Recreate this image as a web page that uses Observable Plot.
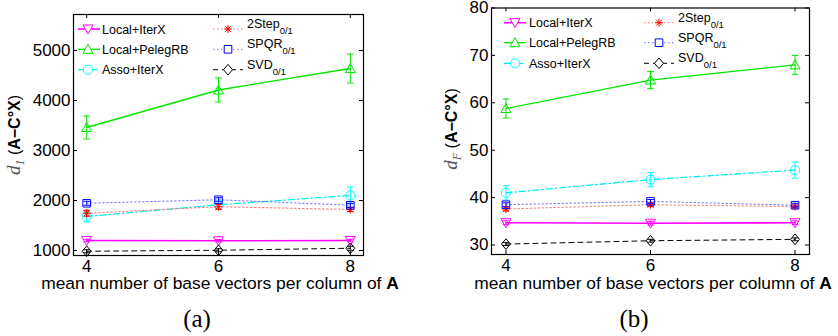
<!DOCTYPE html>
<html>
<head>
<meta charset="utf-8">
<script src="https://cdn.jsdelivr.net/npm/d3@7"></script>
<script src="https://cdn.jsdelivr.net/npm/@observablehq/plot@0.6"></script>
<style>
  html, body { margin: 0; padding: 0; background: #fff; }
  #chart { display: flex; width: 838px; height: 336px; overflow: hidden; }
  #chart svg { display: block; flex: none; }
</style>
</head>
<body>
<div id="chart"></div>
<script>
// ---------------- data ----------------
const xValues = [4, 6, 8];
const xTicks = [4, 6, 8];
const seriesNames = ["Local+IterX", "Local+PelegRB", "Asso+IterX", "2Step", "SPQR", "SVD"];
const seriesSubs = ["", "", "", "0/1", "0/1", "0/1"];

// panel (a): d_1(A - C o X)
const d1LocalIterX = [1200, 1195, 1200];
const d1LocalIterXErr = [25, 25, 25];
const d1LocalPelegRB = [3460, 4210, 4640];
const d1LocalPelegRBErr = [230, 240, 290];
const d1AssoIterX = [1680, 1915, 2100];
const d1AssoIterXErr = [110, 90, 170];
const d1TwoStep = [1745, 1875, 1820];
const d1TwoStepErr = [60, 50, 40];
const d1SPQR = [1945, 2015, 1905];
const d1SPQRErr = [40, 40, 40];
const d1SVD = [985, 1005, 1045];
const d1SVDErr = [30, 30, 40];
const d1Ticks = [1000, 2000, 3000, 4000, 5000];

// panel (b): d_F(A - C o X)
const dFLocalIterX = [34.7, 34.6, 34.7];
const dFLocalIterXErr = [0.4, 0.4, 0.4];
const dFLocalPelegRB = [58.8, 64.8, 68.0];
const dFLocalPelegRBErr = [2.0, 1.8, 2.0];
const dFAssoIterX = [41.0, 43.8, 45.8];
const dFAssoIterXErr = [1.5, 1.5, 1.7];
const dFTwoStep = [37.6, 38.5, 38.1];
const dFTwoStepErr = [0.4, 0.4, 0.3];
const dFSPQR = [38.5, 39.2, 38.4];
const dFSPQRErr = [0.4, 0.4, 0.4];
const dFSVD = [30.2, 30.9, 31.2];
const dFSVDErr = [0.3, 0.3, 0.3];
const dFTicks = [30, 40, 50, 60, 70, 80];

const captions = ["(a)", "(b)"];
const xLabelPlain = "mean number of base vectors per column of ";
const xLabelBold = "A";
const yLabelSubs = ["1", "F"];
const yLabelBody = "A\u2212C\u00b0X";

// ---------------- styles ----------------
const sym = {
  triDown: {draw(c) { c.moveTo(0, 5); c.lineTo(-5, -4); c.lineTo(5, -4); c.closePath(); }},
  triUp: {draw(c) { c.moveTo(0, -5); c.lineTo(5, 4); c.lineTo(-5, 4); c.closePath(); }},
  circle: {draw(c) { c.moveTo(4.6, 0); c.arc(0, 0, 4.6, 0, 2 * Math.PI); c.closePath(); }},
  star: {draw(c) {
    const a = 4, b = 2.9;
    c.moveTo(-a, 0); c.lineTo(a, 0); c.moveTo(0, -a); c.lineTo(0, a);
    c.moveTo(-b, -b); c.lineTo(b, b); c.moveTo(-b, b); c.lineTo(b, -b);
  }},
  square: {draw(c) { c.rect(-3.8, -3.8, 7.6, 7.6); }},
  diamond: {draw(c) { c.moveTo(0, -5.3); c.lineTo(4.5, 0); c.lineTo(0, 5.3); c.lineTo(-4.5, 0); c.closePath(); }},
  cap: {draw(c) { c.moveTo(-3.3, 0); c.lineTo(3.3, 0); }}
};

const seriesStyles = [
  {color: "#ff00ff", lineColor: "#ff00ff", dash: null, width: 1.6, symbol: sym.triDown},
  {color: "#00e600", lineColor: "#00e600", dash: null, width: 1.3, symbol: sym.triUp},
  {color: "#00ffff", lineColor: "#00f0f0", dash: "6,3,1.5,3", width: 1.3, symbol: sym.circle},
  {color: "#ff0000", lineColor: "#ff7070", dash: "1.5,2.5", width: 1, symbol: sym.star},
  {color: "#0000ff", lineColor: "#7070ff", dash: "1.5,2.5", width: 1, symbol: sym.square},
  {color: "#000000", lineColor: "#000000", dash: "5,4", width: 1, symbol: sym.diamond}
];

const panels = [
  {
    width: 418, height: 336, mt: 14, mb: 81, ml: 73, mr: 55,
    yDomain: [900, 5720], yTicks: d1Ticks,
    values: [d1LocalIterX, d1LocalPelegRB, d1AssoIterX, d1TwoStep, d1SPQR, d1SVD],
    errors: [d1LocalIterXErr, d1LocalPelegRBErr, d1AssoIterXErr, d1TwoStepErr, d1SPQRErr, d1SVDErr],
    legend: {
      cols: [{x1: 78, x2: 100, mx: 88, tx: 102}, {x1: 213, x2: 243, mx: 228, tx: 247}],
      rows: [29, 49.3, 69.7]
    },
    yLabel: {x: 20, y: 135, sub: yLabelSubs[0]},
    xLabel: {x: 220, y: 289},
    caption: {x: 197, y: 327, text: captions[0]}
  },
  {
    width: 420, height: 336, mt: 7.5, mb: 82, ml: 73, mr: 29,
    yDomain: [28, 80], yTicks: dFTicks,
    values: [dFLocalIterX, dFLocalPelegRB, dFAssoIterX, dFTwoStep, dFSPQR, dFSVD],
    errors: [dFLocalIterXErr, dFLocalPelegRBErr, dFAssoIterXErr, dFTwoStepErr, dFSPQRErr, dFSVDErr],
    legend: {
      cols: [{x1: 86, x2: 108, mx: 97, tx: 111}, {x1: 226, x2: 256, mx: 241, tx: 260}],
      rows: [22.7, 42.7, 63.3]
    },
    yLabel: {x: 39, y: 129, sub: yLabelSubs[1]},
    xLabel: {x: 235, y: 289},
    caption: {x: 216, y: 327, text: captions[1]}
  }
];

const SANS = "'Liberation Sans', Arial, Helvetica, sans-serif";
const SERIF = "'Liberation Serif', 'Times New Roman', serif";

function drawPanel(p) {
  const innerW = p.width - p.ml - p.mr;
  const innerH = p.height - p.mt - p.mb;
  const tk = 4;
  const marks = [
    Plot.ruleX(xTicks, {insetTop: innerH - tk, stroke: "black"}),
    Plot.ruleX(xTicks, {insetBottom: innerH - tk, stroke: "black"}),
    Plot.ruleY(p.yTicks, {insetRight: innerW - tk, stroke: "black"}),
    Plot.ruleY(p.yTicks, {insetLeft: innerW - tk, stroke: "black"}),
    Plot.axisX(xTicks, {tickSize: 0, tickPadding: 4.5, fontSize: 17, label: null, tickFormat: d => String(d)}),
    Plot.axisY(p.yTicks, {tickSize: 0, tickPadding: 3, fontSize: 17, label: null, tickFormat: d => String(d)})
  ];
  seriesNames.forEach((name, k) => {
    const st = seriesStyles[k];
    const rows = xValues.map((x, i) => ({
      x, y: p.values[k][i],
      lo: p.values[k][i] - p.errors[k][i],
      hi: p.values[k][i] + p.errors[k][i]
    }));
    marks.push(
      Plot.line(rows, {x: "x", y: "y", stroke: st.lineColor, strokeWidth: st.width, strokeDasharray: st.dash}),
      Plot.ruleX(rows, {x: "x", y1: "lo", y2: "hi", stroke: st.color, strokeWidth: 1}),
      Plot.dot(rows, {x: "x", y: "lo", symbol: sym.cap, r: 4, stroke: st.color, fill: "none", strokeWidth: 1}),
      Plot.dot(rows, {x: "x", y: "hi", symbol: sym.cap, r: 4, stroke: st.color, fill: "none", strokeWidth: 1}),
      Plot.dot(rows, {x: "x", y: "y", symbol: st.symbol, r: 5, stroke: st.color, fill: "none", strokeWidth: 1})
    );
  });
  marks.push(Plot.frame({stroke: "black", strokeWidth: 1.2}));

  const svg = Plot.plot({
    width: p.width, height: p.height,
    marginTop: p.mt, marginBottom: p.mb, marginLeft: p.ml, marginRight: p.mr,
    x: {domain: [3.8, 8.2], label: null},
    y: {domain: p.yDomain, label: null},
    style: {fontFamily: SANS, fontSize: "17px", color: "black", background: "white", overflow: "visible"},
    marks
  });

  const g = d3.select(svg).append("g").attr("text-anchor", "start");

  // legend
  seriesNames.forEach((name, k) => {
    const st = seriesStyles[k];
    const col = p.legend.cols[Math.floor(k / 3)];
    const y = p.legend.rows[k % 3];
    g.append("line")
      .attr("x1", col.x1).attr("x2", col.x2).attr("y1", y).attr("y2", y)
      .attr("stroke", st.lineColor).attr("stroke-width", st.width)
      .attr("stroke-dasharray", st.dash);
    g.append("path")
      .attr("transform", `translate(${col.mx},${y})`)
      .attr("d", d3.symbol(st.symbol, 30)())
      .attr("fill", "white").attr("stroke", st.color).attr("stroke-width", 1);
    const t = g.append("text")
      .attr("x", col.tx)
      .attr("y", seriesSubs[k] ? y - 1 : y + 4.5)
      .attr("text-anchor", "start")
      .attr("font-family", SANS).attr("font-size", 12.5).attr("fill", "black");
    t.append("tspan").text(name);
    if (seriesSubs[k]) {
      t.append("tspan").attr("dy", 6).attr("font-size", 9.5).text(seriesSubs[k]);
    }
  });

  // y label
  const yl = g.append("text")
    .attr("transform", `translate(${p.yLabel.x},${p.yLabel.y}) rotate(-90)`)
    .attr("text-anchor", "middle").attr("fill", "black");
  yl.append("tspan").attr("font-family", SERIF).attr("font-style", "italic").attr("font-size", 19).attr("fill", "#555").text("d");
  yl.append("tspan").attr("font-family", SERIF).attr("font-style", "italic").attr("font-size", 12).attr("fill", "#555").attr("dy", 4).text(p.yLabel.sub);
  yl.append("tspan").attr("font-family", SANS).attr("font-size", 16).attr("dy", -4).text(" (");
  yl.append("tspan").attr("font-family", SANS).attr("font-weight", "bold").attr("font-size", 16).text(yLabelBody);
  yl.append("tspan").attr("font-family", SANS).attr("font-size", 16).text(")");

  // x label
  const xl = g.append("text")
    .attr("x", p.xLabel.x).attr("y", p.xLabel.y)
    .attr("text-anchor", "middle").attr("font-family", SANS).attr("font-size", 17.4).attr("fill", "black");
  xl.append("tspan").text(xLabelPlain);
  xl.append("tspan").attr("font-weight", "bold").text(xLabelBold);

  // caption
  g.append("text")
    .attr("x", p.caption.x).attr("y", p.caption.y)
    .attr("text-anchor", "middle").attr("font-family", SERIF).attr("font-size", 25).attr("fill", "black")
    .text(p.caption.text);

  return svg;
}

const container = document.getElementById("chart");
panels.forEach(p => container.appendChild(drawPanel(p)));
</script>
</body>
</html>
